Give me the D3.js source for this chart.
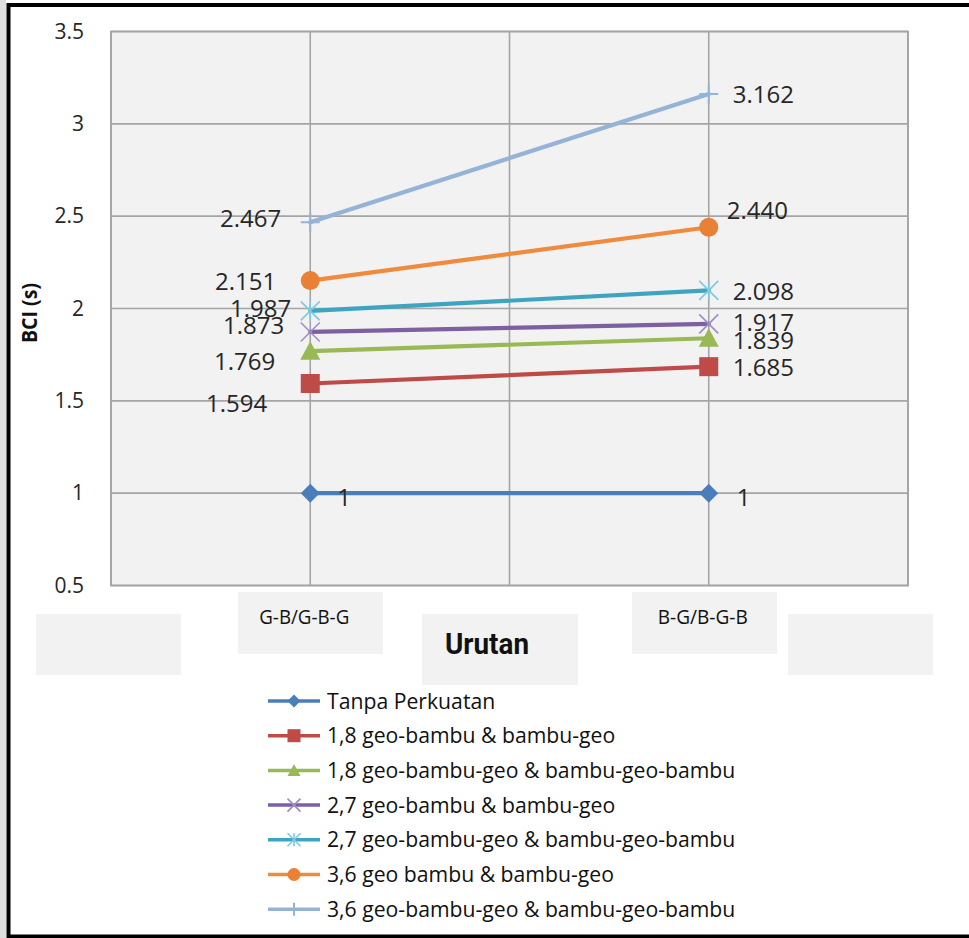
<!DOCTYPE html>
<html>
<head>
<meta charset="utf-8">
<script src="https://cdn.jsdelivr.net/npm/d3@7"></script>
<style>
  html, body { margin: 0; padding: 0; background: #ffffff; }
  svg { display: block; }
</style>
</head>
<body>
<svg id="chart" width="969" height="938"></svg>
<script>
// Categories (stacking order) and BCI values per reinforcement configuration
const categories = ["G-B/G-B-G", "B-G/B-G-B"];
const seriesNames = [
  "Tanpa Perkuatan",
  "1,8 geo-bambu & bambu-geo",
  "1,8 geo-bambu-geo & bambu-geo-bambu",
  "2,7 geo-bambu & bambu-geo",
  "2,7 geo-bambu-geo & bambu-geo-bambu",
  "3,6 geo bambu & bambu-geo",
  "3,6 geo-bambu-geo & bambu-geo-bambu"
];
const tanpaPerkuatan = [1, 1];
const geo18Double = [1.594, 1.685];
const geo18Triple = [1.769, 1.839];
const geo27Double = [1.873, 1.917];
const geo27Triple = [1.987, 2.098];
const geo36Double = [2.151, 2.440];
const geo36Triple = [2.467, 3.162];
const yTickValues = [0.5, 1, 1.5, 2, 2.5, 3, 3.5];
const yTickLabels = ["0.5", "1", "1.5", "2", "2.5", "3", "3.5"];
const yTitle = "BCI (s)";
const xTitle = "Urutan";

const seriesValues = [tanpaPerkuatan, geo18Double, geo18Triple, geo27Double, geo27Triple, geo36Double, geo36Triple];

// Styling per series
const lineColors = ["#4A7EBB", "#BE4B48", "#98B954", "#7D60A0", "#3FA4BF", "#F08A3C", "#95B3D7"];
const markerColors = ["#4A7EBB", "#BE4B48", "#98B954", "#A08CC8", "#7ACBE0", "#E88035", "#95B3D7"];
const markerTypes = ["diamond", "square", "triangle", "x", "star", "circle", "plus"];

// Data-label nudges (dx, dy, anchor) for the left and right points of each series
const labelNudges = [
  [[27, 4, "start"], [28, 4, "start"]],
  [[-43, 20, "end"], [24, 1, "start"]],
  [[-35, 10, "end"], [24, 2, "start"]],
  [[-26, -6, "end"], [24, -1, "start"]],
  [[-19, -2, "end"], [24, 1, "start"]],
  [[-34, 1, "end"], [18, -17, "start"]],
  [[-29, -4, "end"], [24, 1, "start"]]
];

const svg = d3.select("#chart");
const plot = { left: 111, right: 908, top: 31.5, bottom: 585.5 };

// Left grey strip and the heavy black frame
svg.append("rect").attr("x", 0).attr("y", 0).attr("width", 6).attr("height", 938).attr("fill", "#dedede");
svg.append("rect")
  .attr("x", 8.5).attr("y", 5).attr("width", 975).attr("height", 931.5)
  .attr("fill", "#ffffff").attr("stroke", "#000000").attr("stroke-width", 4);

const x = d3.scaleBand().domain(categories).range([plot.left, plot.right]).padding(0);
const cx = c => x(c) + x.bandwidth() / 2;
const y = d3.scaleLinear().domain([0.5, 3.5]).range([plot.bottom, plot.top]);

// Plot area
svg.append("rect")
  .attr("x", plot.left).attr("y", plot.top)
  .attr("width", plot.right - plot.left).attr("height", plot.bottom - plot.top)
  .attr("fill", "#f2f2f2");

const grid = svg.append("g");
grid.selectAll("line.h").data(yTickValues).join("line")
  .attr("x1", plot.left).attr("x2", plot.right)
  .attr("y1", d => y(d)).attr("y2", d => y(d))
  .attr("stroke", "#a5a5a5").attr("stroke-width", 1.6);
const vLines = [];
categories.forEach(c => { vLines.push(x(c)); vLines.push(cx(c)); });
vLines.push(plot.right);
grid.selectAll("line.v").data(vLines).join("line")
  .attr("x1", d => d).attr("x2", d => d)
  .attr("y1", plot.top).attr("y2", plot.bottom)
  .attr("stroke", "#a5a5a5").attr("stroke-width", 1.6);
svg.append("rect")
  .attr("x", plot.left).attr("y", plot.top)
  .attr("width", plot.right - plot.left).attr("height", plot.bottom - plot.top)
  .attr("fill", "none").attr("stroke", "#a5a5a5").attr("stroke-width", 1.8);

// Y axis labels
const yAxis = d3.axisLeft(y).tickValues(yTickValues).tickSize(0).tickPadding(27)
  .tickFormat((d, i) => yTickLabels[i]);
const yg = svg.append("g").attr("transform", `translate(${plot.left},0)`).call(yAxis);
yg.select(".domain").remove();
yg.selectAll("text")
  .attr("font-family", "'Open Sans', sans-serif").attr("font-size", 21)
  .attr("fill", "#262626");

svg.append("text")
  .attr("transform", "translate(37,313) rotate(-90)")
  .attr("text-anchor", "middle")
  .attr("font-family", "'Open Sans', sans-serif").attr("font-weight", 700)
  .attr("font-size", 22).attr("textLength", 60).attr("lengthAdjust", "spacingAndGlyphs")
  .attr("fill", "#111").text(yTitle);

// Grey label boxes under the axis
const boxes = [
  { x: 36, y: 614, w: 145, h: 61 },
  { x: 238, y: 592, w: 145, h: 62 },
  { x: 422, y: 614, w: 156, h: 71 },
  { x: 632, y: 592, w: 145, h: 62 },
  { x: 788, y: 614, w: 145, h: 61 }
];
svg.selectAll("rect.box").data(boxes).join("rect")
  .attr("x", d => d.x).attr("y", d => d.y).attr("width", d => d.w).attr("height", d => d.h)
  .attr("fill", "#f2f2f2");

svg.selectAll("text.cat").data(categories).join("text")
  .attr("x", d => cx(d) - 6).attr("y", 624)
  .attr("text-anchor", "middle")
  .attr("font-family", "'Open Sans', sans-serif").attr("font-size", 20)
  .attr("textLength", 90).attr("lengthAdjust", "spacingAndGlyphs")
  .attr("fill", "#111").text(d => d);

svg.append("text")
  .attr("x", 487).attr("y", 654)
  .attr("text-anchor", "middle")
  .attr("font-family", "Roboto, sans-serif").attr("font-weight", 700)
  .attr("font-size", 30).attr("textLength", 84).attr("lengthAdjust", "spacingAndGlyphs")
  .attr("fill", "#111").text(xTitle);

// Marker shapes
function drawMarker(g, type, s, fill, stroke) {
  const h = s / 2;
  if (type === "diamond") {
    g.append("path").attr("d", `M0,${-h}L${h},0L0,${h}L${-h},0Z`).attr("fill", fill);
  } else if (type === "square") {
    g.append("rect").attr("x", -h).attr("y", -h).attr("width", s).attr("height", s).attr("fill", fill);
  } else if (type === "triangle") {
    g.append("path").attr("d", `M0,${-h}L${h},${h * 0.85}L${-h},${h * 0.85}Z`).attr("fill", fill);
  } else if (type === "circle") {
    g.append("circle").attr("r", h).attr("fill", fill);
  } else if (type === "x") {
    g.append("path").attr("d", `M${-h},${-h}L${h},${h}M${-h},${h}L${h},${-h}`)
      .attr("stroke", stroke).attr("stroke-width", 1.6).attr("fill", "none");
  } else if (type === "star") {
    g.append("path").attr("d", `M${-h},${-h}L${h},${h}M${-h},${h}L${h},${-h}M0,${-h}L0,${h}`)
      .attr("stroke", stroke).attr("stroke-width", 1.6).attr("fill", "none");
  } else if (type === "plus") {
    g.append("path").attr("d", `M${-h},0L${h},0M0,${-h}L0,${h}`)
      .attr("stroke", stroke).attr("stroke-width", 2).attr("fill", "none");
  }
}

// Series lines
const line = d3.line().x((d, i) => cx(categories[i])).y(d => y(d));
seriesValues.forEach((vals, si) => {
  svg.append("path").datum(vals).attr("d", line)
    .attr("fill", "none").attr("stroke", lineColors[si]).attr("stroke-width", 4.2)
    .attr("stroke-linecap", "round");
});

// Markers
seriesValues.forEach((vals, si) => {
  vals.forEach((v, i) => {
    const g = svg.append("g").attr("transform", `translate(${cx(categories[i])},${y(v)})`);
    drawMarker(g, markerTypes[si], markerTypes[si] === "triangle" ? 20 : 19, markerColors[si], markerColors[si]);
  });
});

// Data labels
const fmt = v => (Number.isInteger(v) ? String(v) : v.toFixed(3));
seriesValues.forEach((vals, si) => {
  vals.forEach((v, i) => {
    const [dx, dy, anchor] = labelNudges[si][i];
    svg.append("text")
      .attr("x", cx(categories[i]) + dx)
      .attr("y", y(v) + dy + 8.5)
      .attr("text-anchor", anchor)
      .attr("font-family", "'Open Sans', sans-serif").attr("font-size", 24)
      .attr("fill", "#262626").text(fmt(v));
  });
});

// Legend
const legend = svg.append("g");
seriesNames.forEach((name, si) => {
  const ly = 701 + si * 34.7;
  legend.append("line").attr("x1", 268).attr("x2", 320).attr("y1", ly).attr("y2", ly)
    .attr("stroke", lineColors[si]).attr("stroke-width", 3.5);
  const g = legend.append("g").attr("transform", `translate(294,${ly})`);
  drawMarker(g, markerTypes[si], 13, markerColors[si], markerColors[si]);
  legend.append("text").attr("x", 327).attr("y", ly + 7.5)
    .attr("font-family", "'Open Sans', sans-serif").attr("font-size", 21.2)
    .attr("fill", "#111").text(name);
});
</script>
</body>
</html>
